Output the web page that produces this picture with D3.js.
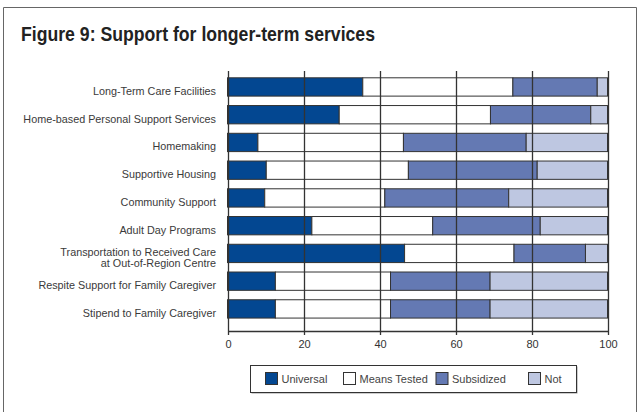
<!DOCTYPE html>
<html>
<head>
<meta charset="utf-8">
<script src="https://cdn.jsdelivr.net/npm/d3@7"></script>
<style>
  html, body { margin: 0; padding: 0; background: #fff; }
  svg { display: block; }
  text { font-family: "Liberation Sans", Arial, sans-serif; fill: #333; }
</style>
</head>
<body>
<svg id="chart" width="640" height="412"></svg>
<script>
// Services (top to bottom) and share of responses for each support type (%)
const categories = [
  "Long-Term Care Facilities",
  "Home-based Personal Support Services",
  "Homemaking",
  "Supportive Housing",
  "Community Support",
  "Adult Day Programs",
  "Transportation to Received Care|at Out-of-Region Centre",
  "Respite Support for Family Caregiver",
  "Stipend to Family Caregiver"
];
const universal   = [35.6, 29.4,  8.0, 10.2,  9.8, 22.2, 46.6, 12.6, 12.6];
const meansTested = [39.5, 39.8, 38.3, 37.4, 31.6, 31.8, 28.8, 30.3, 30.3];
const subsidized  = [22.2, 26.4, 32.3, 33.9, 32.6, 28.3, 18.8, 26.2, 26.2];
const notSupported = [2.7,  4.4, 21.4, 18.5, 26.0, 17.7,  5.8, 30.9, 30.9];

const seriesNames = ["Universal", "Means Tested", "Subsidized", "Not"];
const seriesColors = ["#034791", "#ffffff", "#6479b3", "#bec7e1"];
const tickValues = [0, 20, 40, 60, 80, 100];

const rows = categories.map((c, i) => ({
  cat: c,
  "Universal": universal[i],
  "Means Tested": meansTested[i],
  "Subsidized": subsidized[i],
  "Not": notSupported[i]
}));

const svg = d3.select("#chart");

// outer frame
svg.append("path")
  .attr("d", "M3.5,420 V7.5 H636.5 V420")
  .attr("fill", "none")
  .attr("stroke", "#666")
  .attr("stroke-width", 1);

// title
svg.append("text")
  .attr("x", 21)
  .attr("y", 41)
  .attr("textLength", 354)
  .attr("lengthAdjust", "spacingAndGlyphs")
  .style("font-size", "21px")
  .style("font-weight", "bold")
  .style("fill", "#222")
  .text("Figure 9: Support for longer-term services");

const x = d3.scaleLinear().domain([0, 100]).range([227.5, 607.5]);
const y = d3.scaleBand().domain(categories).range([77.3, 327]).paddingInner(0).paddingOuter(0);
const barH = y.bandwidth() * 0.66;
const axisY = 331;
const gridTop = 71;

const stack = d3.stack().keys(seriesNames);
const stacked = stack(rows);

// bars
const layers = svg.append("g").selectAll("g")
  .data(stacked)
  .join("g")
  .attr("fill", (d, i) => seriesColors[i]);

layers.selectAll("rect")
  .data(d => d.map(p => ({ p, cat: p.data.cat })))
  .join("rect")
  .attr("x", d => x(d.p[0]))
  .attr("y", d => y(d.cat) + 0.5)
  .attr("width", d => x(d.p[1]) - x(d.p[0]))
  .attr("height", barH)
  .attr("stroke", "#333")
  .attr("stroke-width", 1);

// vertical grid lines drawn over the bars
svg.append("g").selectAll("line")
  .data(tickValues)
  .join("line")
  .attr("x1", d => Math.round(x(d)) + 0.5)
  .attr("x2", d => Math.round(x(d)) + 0.5)
  .attr("y1", gridTop)
  .attr("y2", axisY)
  .attr("stroke", "#333")
  .attr("stroke-width", 1.3);

// bottom axis
const xAxis = d3.axisBottom(x)
  .tickValues(tickValues)
  .tickSize(4)
  .tickSizeOuter(0)
  .tickPadding(5)
  .tickFormat(d3.format("d"));

const ax = svg.append("g")
  .attr("transform", `translate(0.5,${axisY})`)
  .call(xAxis);
ax.select(".domain").attr("stroke", "#333").attr("stroke-width", 1.3);
ax.selectAll(".tick line").attr("stroke", "#333").attr("stroke-width", 1.3);
ax.selectAll(".tick text")
  .style("font-size", "11px")
  .style("font-family", "'Liberation Sans', Arial, sans-serif")
  .attr("fill", "#555");

// category labels
const labels = svg.append("g").selectAll("text")
  .data(categories)
  .join("text")
  .attr("x", 216)
  .attr("y", d => y(d) + y.bandwidth() / 2)
  .attr("text-anchor", "end")
  .style("font-size", "10.8px")
  .style("fill", "#3a3a3a");

labels.each(function (d) {
  const parts = d.split("|");
  const t = d3.select(this);
  const start = -(parts.length - 1) * 0.5 + 0.35;
  parts.forEach((line, k) => {
    t.append("tspan")
      .attr("x", 216)
      .attr("dy", k === 0 ? `${start}em` : "1.0em")
      .text(line);
  });
});

// legend
const legend = svg.append("g");
legend.append("rect")
  .attr("x", 251.5).attr("y", 366.5)
  .attr("width", 326).attr("height", 27)
  .attr("fill", "#999");
legend.append("rect")
  .attr("x", 250.5).attr("y", 365.5)
  .attr("width", 326).attr("height", 27)
  .attr("fill", "#fff")
  .attr("stroke", "#333")
  .attr("stroke-width", 1);

const legendX = [265.5, 343.5, 436, 528.5];
const items = legend.selectAll("g.item")
  .data(seriesNames)
  .join("g")
  .attr("class", "item")
  .attr("transform", (d, i) => `translate(${legendX[i]},372.5)`);
items.append("rect")
  .attr("width", 12).attr("height", 12)
  .attr("fill", (d, i) => seriesColors[i])
  .attr("stroke", "#333")
  .attr("stroke-width", 1);
items.append("text")
  .attr("x", 16)
  .attr("y", 10.5)
  .style("font-size", "11px")
  .style("fill", "#444")
  .text(d => d);
</script>
</body>
</html>
